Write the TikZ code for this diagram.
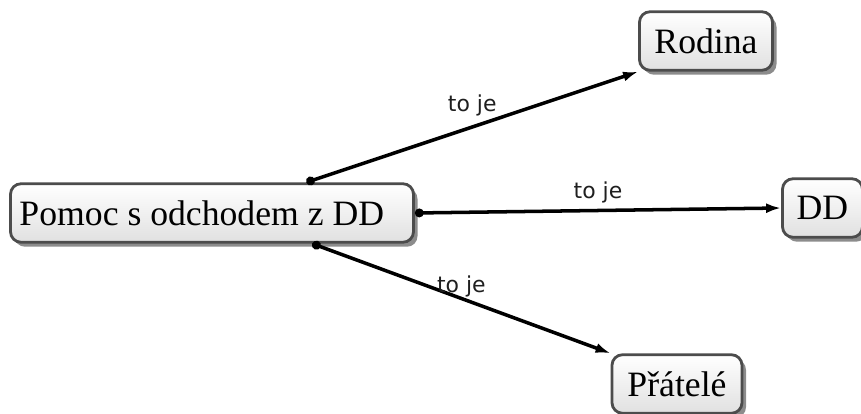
\documentclass[tikz,border=0pt]{standalone}
\usepackage{fontspec}
\setmainfont{Liberation Serif}
\newfontfamily\labelfont{DejaVu Sans}
\usetikzlibrary{arrows.meta, shadows, positioning}

\begin{document}
\begin{tikzpicture}[
    topic/.style = {draw=black!70, line width=1.6pt, rectangle, rounded corners=6pt,
                    minimum height=1.17cm, inner xsep=0.28cm, align=center,
                    top color=white, bottom color=black!12,
                    font=\fontsize{20.3}{24}\selectfont,
                    drop shadow={shadow xshift=0.08cm, shadow yshift=-0.09cm, fill=black, opacity=0.45}},
    link/.style = {{Circle[length=5pt]}-{Latex[length=0.3cm, width=0.2cm]}, line width=2pt},
    tag/.style = {font=\labelfont\fontsize{12.5}{14}\selectfont, text=black!88, inner sep=1pt}
]
    \useasboundingbox (0,0) rectangle (17.22,8.28);

    % Nodes
    \node [topic, inner xsep=0.18cm, text width=7.7cm, align=flush left] (help) at (4.24,4.02) {Pomoc s odchodem z DD};
    \node [topic, minimum width=2.66cm] (family) at (14.12,7.46) {Rodina};
    \node [topic, minimum width=1.60cm] (dd) at (16.45,4.12) {DD};
    \node [topic, minimum width=2.60cm] (friends) at (13.54,0.6) {Přátelé};

    % Edges
    \draw [link] (help.18) -- node [tag, midway, above=4pt] {to je} (family.south west);
    \draw [link] (help.east) -- node [tag, midway, above=2pt] {to je} (dd.west);
    \draw [link] (help.-17) -- node [tag, midway, above=-1pt] {to je} (friends.north west);

\end{tikzpicture}
\end{document}
